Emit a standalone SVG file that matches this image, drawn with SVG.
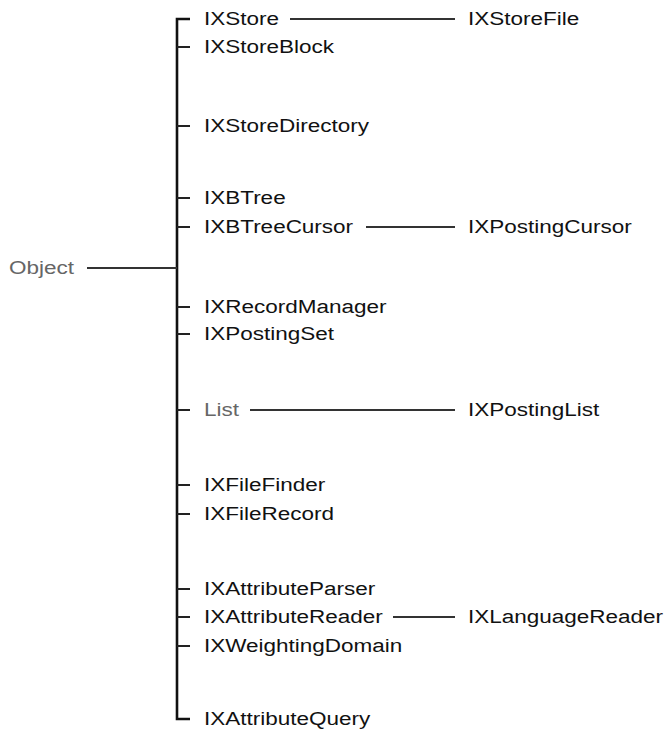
<svg xmlns="http://www.w3.org/2000/svg" width="667" height="733" viewBox="0 0 667 733">
<style>
text{font-family:"Liberation Sans",Arial,sans-serif;font-size:18px;fill:#111}
.gray{fill:#666}
.trunk{stroke:#111;stroke-width:2.6;fill:none}
.tick{stroke:#222;stroke-width:2;fill:none}
.conn{stroke:#333;stroke-width:1.8;fill:none}
</style>
<rect width="667" height="733" fill="#fff"/>
<g id="connectors">
<path class="trunk" d="M190 19 H177 V719 H190"/>
<path class="tick" d="M177 47 H190 M177 126 H190 M177 198 H190 M177 227 H190 M177 307 H190 M177 334 H190 M177 410 H190 M177 485 H190 M177 514 H190 M177 589 H190 M177 617 H190 M177 646 H190"/>
<path class="conn" d="M87 268 H177"/>
<path class="conn" d="M290 19 H455"/>
<path class="conn" d="M366 227 H455"/>
<path class="conn" d="M250 410 H455"/>
<path class="conn" d="M393 617 H455"/>
</g>
<g id="Object"><text class="gray" transform="matrix(1.25 0 0 1 9 274)">Object</text></g>
<g id="IXStore"><text transform="matrix(1.25 0 0 1 204 25)">IXStore</text></g>
<g id="IXStoreFile"><text transform="matrix(1.25 0 0 1 468 25)">IXStoreFile</text></g>
<g id="IXStoreBlock"><text transform="matrix(1.25 0 0 1 204 53)">IXStoreBlock</text></g>
<g id="IXStoreDirectory"><text transform="matrix(1.25 0 0 1 204 132)">IXStoreDirectory</text></g>
<g id="IXBTree"><text transform="matrix(1.25 0 0 1 204 204)">IXBTree</text></g>
<g id="IXBTreeCursor"><text transform="matrix(1.25 0 0 1 204 233)">IXBTreeCursor</text></g>
<g id="IXPostingCursor"><text transform="matrix(1.25 0 0 1 468 233)">IXPostingCursor</text></g>
<g id="IXRecordManager"><text transform="matrix(1.25 0 0 1 204 313)">IXRecordManager</text></g>
<g id="IXPostingSet"><text transform="matrix(1.25 0 0 1 204 340)">IXPostingSet</text></g>
<g id="List"><text class="gray" transform="matrix(1.25 0 0 1 204 416)">List</text></g>
<g id="IXPostingList"><text transform="matrix(1.25 0 0 1 468 416)">IXPostingList</text></g>
<g id="IXFileFinder"><text transform="matrix(1.25 0 0 1 204 491)">IXFileFinder</text></g>
<g id="IXFileRecord"><text transform="matrix(1.25 0 0 1 204 520)">IXFileRecord</text></g>
<g id="IXAttributeParser"><text transform="matrix(1.25 0 0 1 204 595)">IXAttributeParser</text></g>
<g id="IXAttributeReader"><text transform="matrix(1.25 0 0 1 204 623)">IXAttributeReader</text></g>
<g id="IXLanguageReader"><text transform="matrix(1.25 0 0 1 468 623)">IXLanguageReader</text></g>
<g id="IXWeightingDomain"><text transform="matrix(1.25 0 0 1 204 652)">IXWeightingDomain</text></g>
<g id="IXAttributeQuery"><text transform="matrix(1.25 0 0 1 204 725)">IXAttributeQuery</text></g>
</svg>
